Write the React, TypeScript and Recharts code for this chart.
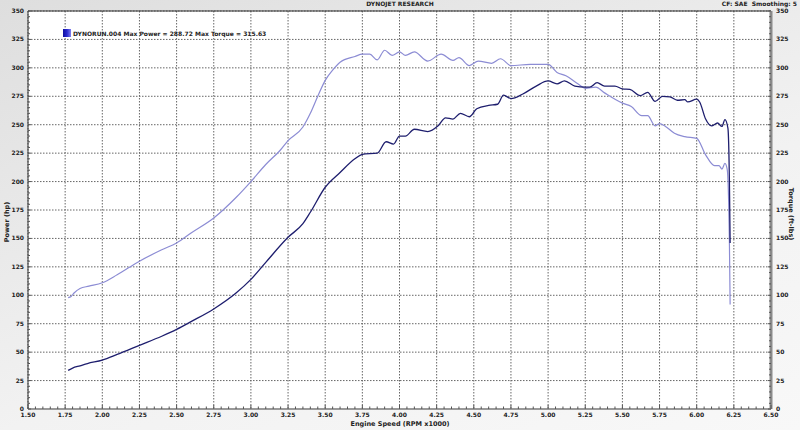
import React from 'react';
import { ComposedChart, Line, XAxis, YAxis, CartesianGrid, ReferenceLine } from 'recharts';

// engine speed (RPM x1000) and power (hp)
const powerRpm = [
  1.77, 1.8, 1.85, 1.9, 2.0, 2.1, 2.25, 2.4, 2.5, 2.6, 2.75, 2.9, 3.0, 3.1, 3.25, 3.35, 3.4, 3.5, 3.6, 3.7,
  3.75, 3.85, 3.91, 3.96, 4.0, 4.04, 4.1, 4.19, 4.26, 4.31, 4.36, 4.41, 4.47, 4.52, 4.6, 4.66, 4.7, 4.75,
  4.83, 4.92, 5.0, 5.06, 5.11, 5.18, 5.25, 5.28, 5.33, 5.38, 5.45, 5.5, 5.55, 5.62, 5.67, 5.72, 5.77, 5.82,
  5.87, 5.92, 5.94, 6.0, 6.02, 6.06, 6.1, 6.14, 6.17, 6.19, 6.21, 6.22, 6.225,
];
const powerHp = [
  34, 36, 38, 40, 43, 48, 56, 64, 70, 77, 88, 102, 114, 129, 151, 163, 173, 195, 208, 220,
  224, 225, 235, 233, 240, 240, 246, 244, 249, 256, 255, 260, 257, 264, 267, 268, 276, 273,
  277, 284, 288.5, 286, 288.5, 284, 283, 283, 287, 284, 284, 281.5, 281, 275.5, 278.5, 270.5, 275, 274.5,
  271.5, 272, 270, 272.5, 270, 255, 249, 251.5, 248.5, 254.5, 247, 201, 146,
];

// engine speed (RPM x1000) and torque (ft-lbs)
const torqueRpm = [
  1.77, 1.79, 1.81, 1.85, 1.91, 2.0, 2.1, 2.25, 2.4, 2.5, 2.6, 2.75, 2.9, 3.0, 3.1, 3.2, 3.25, 3.35, 3.4,
  3.45, 3.5, 3.55, 3.6, 3.7, 3.75, 3.8, 3.85, 3.9, 3.95, 4.0, 4.04, 4.1, 4.19, 4.28, 4.36, 4.4, 4.47, 4.53,
  4.62, 4.68, 4.75, 4.88, 5.0, 5.06, 5.12, 5.2, 5.25, 5.32, 5.38, 5.5, 5.56, 5.63, 5.67, 5.72, 5.75, 5.79,
  5.85, 5.92, 6.0, 6.06, 6.12, 6.15, 6.17, 6.19, 6.205, 6.22, 6.225,
];
const torqueFt = [
  98, 99, 102, 106, 108, 111, 118, 130, 140, 146, 155, 168, 186, 200, 215, 228, 236, 248, 260,
  275, 289, 298, 305, 310, 312, 312, 307, 315.5, 311, 314, 311, 314, 306, 312, 306.5, 309, 302, 306,
  304, 308, 302, 303, 303, 296, 293, 286, 282, 283, 278, 269, 266, 258, 258, 249, 251, 248.5,
  242.5, 239.5, 238, 223.5, 214, 214, 211, 216, 211, 148, 92,
];

const rpmTicks = ['1.50', '1.75', '2.00', '2.25', '2.50', '2.75', '3.00', '3.25', '3.50', '3.75', '4.00',
  '4.25', '4.50', '4.75', '5.00', '5.25', '5.50', '5.75', '6.00', '6.25', '6.50'];
const valueTicks = [0, 25, 50, 75, 100, 125, 150, 175, 200, 225, 250, 275, 300, 325, 350];

const powerData = powerRpm.map((rpm, i) => ({ rpm, hp: powerHp[i] }));
const torqueData = torqueRpm.map((rpm, i) => ({ rpm, tq: torqueFt[i] }));

const majorRpm = rpmTicks.map(Number);
const minorRpm: number[] = [];
for (let i = 0; i <= 100; i++) minorRpm.push(Math.round((1.5 + i * 0.05) * 100) / 100);
const minorVal: number[] = [];
for (let v = 0; v <= 350; v += 5) minorVal.push(v);

const FONT = '"DejaVu Sans", Verdana, sans-serif';
const TXT = '#222';

const RpmTick = (props: any) => {
  const { x, y, payload } = props;
  const v = payload.value;
  const major = majorRpm.some((m) => Math.abs(m - v) < 1e-6);
  return (
    <g>
      <line x1={x} x2={x} y1={y - (major ? 4 : 2.5)} y2={y} stroke="#555" strokeWidth={1} />
      {major && (
        <text x={x} y={y + 8} textAnchor="middle" fontSize={6} fontWeight="bold" fill={TXT} fontFamily={FONT}>
          {v.toFixed(2)}
        </text>
      )}
    </g>
  );
};

const makeValTick = (side: 'left' | 'right') => (props: any) => {
  const { x, y, payload } = props;
  const v = payload.value;
  const major = v % 25 === 0;
  const len = major ? 3 : 2;
  const dir = side === 'left' ? 1 : -1;
  return (
    <g>
      <line x1={x} x2={x + dir * len} y1={y} y2={y} stroke="#555" strokeWidth={1} />
      {major && (
        <text
          x={side === 'left' ? x - 4 : x + 5}
          y={y + 2}
          textAnchor={side === 'left' ? 'end' : 'start'}
          fontSize={6}
          fontWeight="bold"
          fill={TXT}
          fontFamily={FONT}
        >
          {v}
        </text>
      )}
    </g>
  );
};

export default function App() {
  return (
    <div
      style={{
        position: 'absolute',
        left: 0,
        top: 0,
        width: 800,
        height: 430,
        background: 'linear-gradient(160deg, #dedede 0%, #f2f2f2 60%, #f8f8f8 100%)',
        fontFamily: FONT,
        color: TXT,
        overflow: 'hidden',
      }}
    >
      <div style={{ position: 'absolute', left: 0, width: 800, top: 0, textAlign: 'center', fontSize: 6, fontWeight: 'bold' }}>
        DYNOJET RESEARCH
      </div>
      <div style={{ position: 'absolute', right: 3, top: 0, fontSize: 6, fontWeight: 'bold', whiteSpace: 'pre' }}>
        {'CF: SAE  Smoothing: 5'}
      </div>

      <ComposedChart width={800} height={430} margin={{ top: 11, right: 0, bottom: 0, left: 0 }}>
        <CartesianGrid
          yAxisId="hp"
          fill="#ffffff"
          stroke="#666"
          strokeDasharray="1.5 1.5"
          verticalValues={majorRpm}
          horizontalValues={valueTicks}
        />
        <XAxis
          type="number"
          dataKey="rpm"
          domain={[1.5, 6.5]}
          ticks={minorRpm}
          interval={0}
          height={21}
          tickSize={0}
          tickMargin={0}
          tick={<RpmTick />}
          axisLine={{ stroke: '#999', strokeWidth: 2 }}
          allowDuplicatedCategory={false}
        />
        <YAxis
          yAxisId="hp"
          domain={[0, 350]}
          ticks={minorVal}
          interval={0}
          width={28}
          tickSize={0}
          tickMargin={0}
          tick={makeValTick('left')}
          axisLine={{ stroke: '#333' }}
        />
        <YAxis
          yAxisId="tq"
          orientation="right"
          domain={[0, 350]}
          ticks={minorVal}
          interval={0}
          width={29}
          tickSize={0}
          tickMargin={0}
          tick={makeValTick('right')}
          axisLine={{ stroke: '#8a8a8a', strokeWidth: 3 }}
        />
        <ReferenceLine yAxisId="hp" y={350} stroke="#333" strokeWidth={1} />
        <Line
          data={torqueData}
          yAxisId="tq"
          dataKey="tq"
          type="monotone"
          stroke="#8c8cd4"
          strokeWidth={1.2}
          dot={false}
          isAnimationActive={false}
        />
        <Line
          data={powerData}
          yAxisId="hp"
          dataKey="hp"
          type="monotone"
          stroke="#1e1e6e"
          strokeWidth={1.3}
          dot={false}
          isAnimationActive={false}
        />
      </ComposedChart>

      {/* legend box */}
      <div style={{ position: 'absolute', left: 63, top: 29, display: 'flex', alignItems: 'center' }}>
        <div
          style={{
            width: 8,
            height: 8,
            background: 'linear-gradient(90deg, #1010a0 0%, #2a2ad0 50%, #8080f0 100%)',
            marginRight: 2,
          }}
        />
        <span style={{ fontSize: 6, fontWeight: 'bold', whiteSpace: 'nowrap' }}>
          DYNORUN.004 Max Power = 288.72 Max Torque = 315.63
        </span>
      </div>

      <div
        style={{
          position: 'absolute',
          left: 400,
          top: 420,
          transform: 'translateX(-50%)',
          fontSize: 6.5,
          fontWeight: 'bold',
          whiteSpace: 'nowrap',
        }}
      >
        Engine Speed (RPM x1000)
      </div>
      <div
        style={{
          position: 'absolute',
          left: 7,
          top: 222,
          transform: 'translate(-50%, -50%) rotate(-90deg)',
          fontSize: 6.5,
          fontWeight: 'bold',
          whiteSpace: 'nowrap',
        }}
      >
        Power (hp)
      </div>
      <div
        style={{
          position: 'absolute',
          left: 791,
          top: 214,
          transform: 'translate(-50%, -50%) rotate(90deg)',
          fontSize: 6.5,
          fontWeight: 'bold',
          whiteSpace: 'nowrap',
        }}
      >
        Torque (ft-lbs)
      </div>
    </div>
  );
}
